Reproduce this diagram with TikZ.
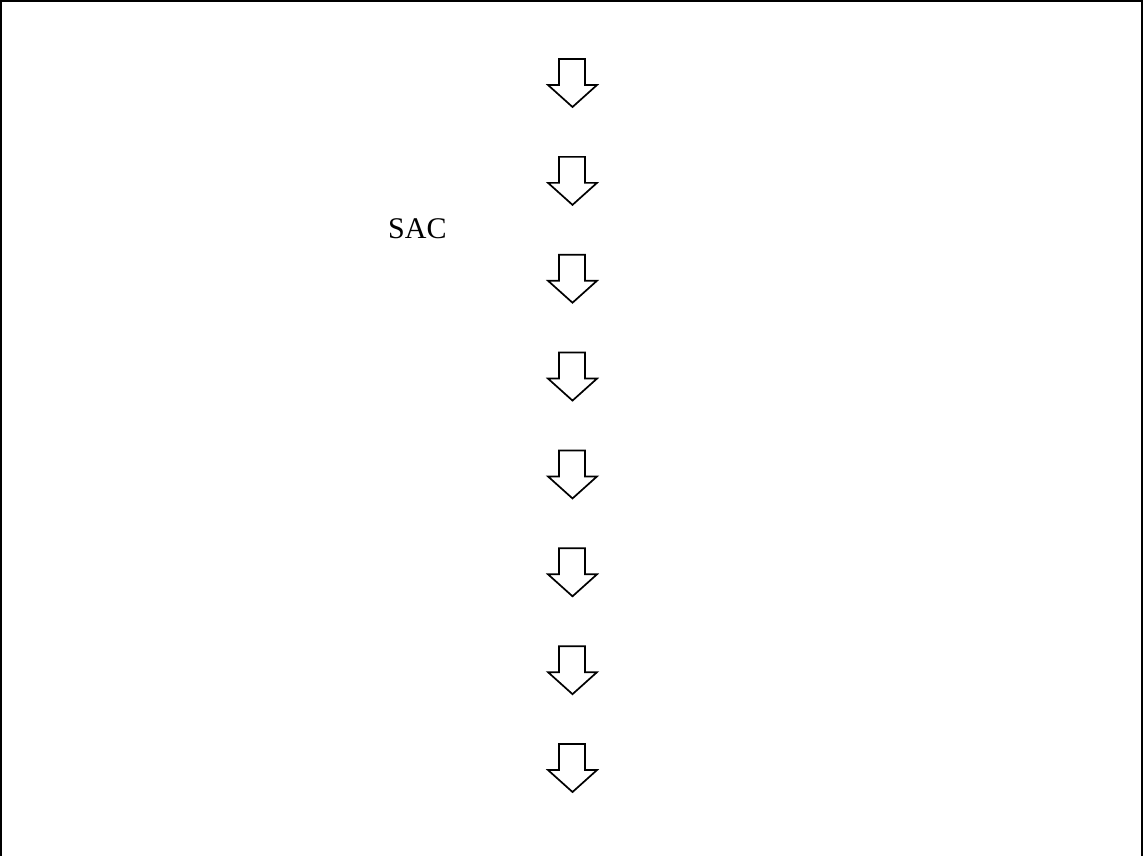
\documentclass[tikz,border=0pt]{standalone}
\usepackage{fontspec}
\setmainfont{Liberation Serif}
\begin{document}
\begin{tikzpicture}[x=1pt,y=-1pt,
  frameline/.style={draw=black,line width=2.2pt},
  hollowarrow/.style={draw=black,line width=1.7pt,line join=miter,fill=white},
  label/.style={font=\fontsize{30}{36}\selectfont,inner sep=0pt,anchor=base west}]
\useasboundingbox (0,0) rectangle (1143,856);
% open frame: left, top and right sides
\draw[frameline] (1.1,856) -- (1.1,1.1) -- (1142,1.1) -- (1142,856);
% text label
\node[label] (sac) at (388,238) {SAC};
% column of hollow down arrows
\foreach \i in {0,...,7}{
  \pgfmathsetmacro{\t}{59+97.86*\i}
  \draw[hollowarrow] (559,\t) -- (585,\t) -- (585,\t+26) -- (597,\t+26)
    -- (572.5,\t+48) -- (548,\t+26) -- (559,\t+26) -- cycle;
}
\end{tikzpicture}
\end{document}
